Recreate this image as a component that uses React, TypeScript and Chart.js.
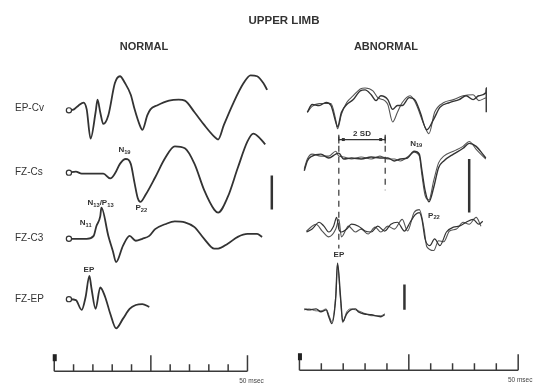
import React, { useEffect, useRef } from "react";
import { Chart, registerables } from "chart.js";

Chart.register(...registerables);

// ---------- text ----------
const titleText = "UPPER LIMB";
const panelTitles = ["NORMAL", "ABNORMAL"];
const rowLabels = ["EP-Cv", "FZ-Cs", "FZ-C3", "FZ-EP"];
const timeTicks = [0, 5, 10, 15, 20, 25, 30, 35, 40, 45, 50];
const timeUnitLabel = "50 msec";

// ---------- NORMAL (left) traces: time (ms), amplitude ----------
const nEpCvT = [3.8, 5.1, 6.3, 7.6, 8.4, 9.4, 10.7, 11.2, 11.9, 12.7, 14.0, 15.7, 17.0, 18.3, 19.8, 20.8, 22.1, 22.8, 24.1, 24.9, 26.6, 29.7, 32.2, 33.8, 36.3, 38.8, 41.4, 42.4, 43.9, 46.4, 49.0, 50.8, 52.5, 54.1, 55.1];
const nEpCvV = [-1, 0, 4, 7, 0, -30, -3, 10, -3, -15, -6, 27, 34, 27, 15, 0, -16, -21, -6, 0, 4, 9, 10, 9, -3, -16, -28, -31, -16, 7, 27, 35, 34, 27, 20];

const nFzCsT = [3.8, 5.6, 7.1, 10.2, 12.7, 14.5, 15.7, 17.0, 18.5, 19.8, 20.8, 21.6, 22.3, 23.6, 26.1, 28.7, 31.2, 33.8, 36.3, 38.8, 41.4, 42.4, 44.9, 47.5, 50.0, 51.5, 53.3, 54.6];
const nFzCsV = [1, 2, 0, 0, 0, -5, 0, 10, 15, 10, -10, -25, -29, -22, -4, 16, 28, 26, 10, -17, -37, -40, -24, 6, 33, 41, 36, 30];

const nFzC3T = [3.8, 8.4, 10.2, 10.9, 11.9, 12.2, 14.0, 15.2, 16.0, 17.8, 19.5, 21.1, 22.8, 24.6, 26.1, 28.7, 31.2, 33.8, 36.3, 38.8, 41.4, 42.4, 44.9, 47.5, 50.0, 52.5, 53.8];
const nFzC3V = [0, 0, 3, 13, 23, 32, 3, -13, -24, -7, 3, -2, 0, 3, 10, 15, 18, 17, 12, 0, -10, -10, -5, 2, 5, 5, 2];

const nFzEpT = [3.8, 5.6, 7.1, 8.1, 9.1, 9.6, 10.7, 11.9, 13.2, 14.5, 16.0, 17.8, 19.5, 21.1, 22.8, 24.6];
const nFzEpV = [1, 0, -10, 3, 25, 13, -9, 13, 3, -14, -29, -19, -9, -5, -4, -7];

// ---------- ABNORMAL (right) traces: two superimposed runs ----------
const aEpCvT1 = [1.8, 2.9, 4.5, 6.1, 7.2, 8.3, 8.7, 9.6, 10.8, 12.3, 13.9, 15.0, 16.4, 17.5, 18.6, 20.2, 21.3, 22.4, 23.5, 25.1, 26.5, 27.6, 29.1, 30.7, 32.1, 34.3, 36.5, 38.1, 39.7, 41.0, 42.6, 42.7, 42.7];
const aEpCvV1 = [-7, 1, 0, 3, 0, -17, -22, -7, 1, 6, 15, 16, 11, 5, 10, 6, -4, 0, 0, 8, 5, -7, -25, -14, -2, 3, 6, 10, 6, 10, 13, 18, -7];
const aEpCvT2 = [1.8, 2.9, 4.5, 6.1, 7.2, 8.3, 8.7, 9.6, 10.8, 12.3, 13.9, 15.0, 16.8, 17.9, 19.5, 20.2, 21.3, 22.4, 23.5, 25.3, 26.5, 28.5, 29.6, 30.9, 33.0, 35.2, 37.4, 39.7, 41.0, 42.6];
const aEpCvV2 = [-7, -1, 2, 2, 2, -15, -24, -9, 3, 10, 17, 18, 15, 8, 5, 1, -17, -7, 3, 10, 3, -20, -29, -7, 3, 6, 10, 11, 5, 8];

const aFzCsT = [1.1, 1.8, 2.9, 4.9, 6.7, 8.3, 9.0, 10.1, 11.9, 14.1, 16.4, 18.4, 20.2, 21.7, 23.1, 24.7, 26.2, 27.4, 28.0, 28.7, 29.6, 30.7, 31.8, 33.0, 35.2, 37.4, 38.8, 40.4, 41.9, 42.6];
const aFzCsV1 = [-13, -3, 2, 4, 0, 4, 5, -1, 0, -1, 1, 0, 0, -3, -1, 0, 7, 4, -13, -33, -45, -30, -10, -3, 4, 10, 15, 12, 4, 0];
const aFzCsV2 = [-11, -1, 4, 2, 2, 7, 2, 1, -1, 1, -1, 2, -1, -1, -3, 1, 6, 2, -18, -38, -43, -23, -5, 2, 7, 12, 17, 9, 2, -1];

const aFzC3T1 = [1.6, 2.9, 4.5, 5.6, 6.7, 7.8, 8.5, 9.0, 9.6, 10.8, 11.9, 13.5, 15.0, 16.4, 17.9, 19.5, 20.9, 22.4, 24.0, 25.3, 26.5, 27.4, 28.0, 28.7, 29.8, 30.9, 32.1, 33.6, 35.2, 36.5, 38.1, 39.7, 41.0, 41.9];
const aFzC3V1 = [-3, 0, 7, 3, -3, 3, 12, 0, -3, 0, 5, 3, -2, -3, 3, -2, 5, 7, -2, 7, 15, 17, 10, -10, -17, -10, -17, -3, 2, 3, 7, 10, 5, 8];
const aFzC3T2 = [1.6, 3.8, 5.2, 6.7, 8.3, 9.0, 9.6, 11.2, 12.8, 14.1, 15.7, 17.3, 18.6, 20.2, 21.7, 23.5, 24.7, 26.2, 27.4, 28.5, 29.1, 30.7, 31.8, 33.0, 34.3, 35.9, 37.4, 38.8, 40.4, 41.5];
const aFzC3V2 = [-2, 5, -2, -8, 0, 10, -8, 3, -3, 0, -5, 2, -3, 3, 0, 10, -2, 17, 20, 0, -18, -22, -12, -13, -2, 0, 7, 5, 12, 3];

const aFzEpT = [1.1, 2.2, 3.8, 4.9, 6.1, 6.7, 7.4, 8.3, 8.7, 9.4, 9.9, 10.8, 11.7, 12.8, 13.5, 14.6, 16.4, 18.6, 19.5];
const aFzEpV1 = [1, 0, 1, -2, 0, -7, -14, 13, 48, 13, -12, -4, 0, 1, -2, -4, -5, -7, -5];
const aFzEpV2 = [0, 1, -1, -1, 1, -5, -12, 15, 46, 10, -13, -2, 1, 0, -1, -3, -6, -6, -4];

// scale bars (ms, amplitude from, amplitude to)
const scaleBarT = [56.3, 38.8, 24.0];
const scaleBarFrom = [-2, -1, 26];
const scaleBarTo = [-37, -56, 0];

// 2 SD latency markers (ms)
const sdMarkT = [9.0, 19.6];

// ---------- layout ----------
const W = 543;
const H = 391;
const PANELS = {
  L: { x0: 50, pxPerMs: 3.94, rows: [107, 173, 240, 303], timeline: 376 },
  R: { x0: 300, pxPerMs: 4.46, rows: [103, 157, 230, 313], timeline: 375 },
};
const INK = "#333333";

function trace(panel: "L" | "R", row: number, t: number[], v: number[], opts: any = {}) {
  const off = PANELS[panel].rows[row];
  return {
    data: t.map((x, i) => ({ x, y: off - v[i] })),
    xAxisID: panel === "L" ? "xL" : "xR",
    yAxisID: "y",
    borderColor: INK,
    borderWidth: 1.8,
    cubicInterpolationMode: "monotone",
    pointRadius: 0,
    fill: false,
    ...opts,
  };
}

function segment(panel: "L" | "R", t1: number, y1: number, t2: number, y2: number, opts: any = {}) {
  return {
    data: [{ x: t1, y: y1 }, { x: t2, y: y2 }],
    xAxisID: panel === "L" ? "xL" : "xR",
    yAxisID: "y",
    borderColor: INK,
    borderWidth: 2,
    pointRadius: 0,
    tension: 0,
    fill: false,
    ...opts,
  };
}

const startCircle = {
  pointRadius: (c: any) => (c.dataIndex === 0 ? 2.6 : 0),
  pointBackgroundColor: "#ffffff",
  pointBorderColor: INK,
  pointBorderWidth: 1.2,
};

type Seg = [string, boolean];
const annotations: { p: "L" | "R"; row: number; t: number; amp: number; segs: Seg[] }[] = [
  { p: "L", row: 1, t: 16.6, amp: 24, segs: [["N", false], ["19", true]] },
  { p: "L", row: 1, t: 21.0, amp: -35, segs: [["P", false], ["22", true]] },
  { p: "L", row: 2, t: 8.6, amp: 37, segs: [["N", false], ["13", true], ["/P", false], ["13", true]] },
  { p: "L", row: 2, t: 6.6, amp: 16, segs: [["N", false], ["11", true]] },
  { p: "L", row: 3, t: 7.6, amp: 31, segs: [["EP", false]] },
  { p: "R", row: 1, t: 25.3, amp: 15, segs: [["N", false], ["19", true]] },
  { p: "R", row: 1, t: 29.4, amp: -59, segs: [["P", false], ["22", true]] },
  { p: "R", row: 3, t: 7.8, amp: 57, segs: [["EP", false]] },
];

function drawSegs(ctx: CanvasRenderingContext2D, x: number, y: number, segs: Seg[], size: number) {
  let cx = x;
  for (const [s, sub] of segs) {
    ctx.font = `bold ${sub ? size * 0.72 : size}px "Liberation Sans", Arial, sans-serif`;
    ctx.fillText(s, cx, sub ? y + size * 0.3 : y);
    cx += ctx.measureText(s).width;
  }
}

const decor = {
  id: "decor",
  afterDatasetsDraw(chart: any) {
    const ctx: CanvasRenderingContext2D = chart.ctx;
    const y = chart.scales.y;
    const sx: any = { L: chart.scales.xL, R: chart.scales.xR };
    ctx.save();
    ctx.fillStyle = "#333";
    ctx.textBaseline = "middle";
    ctx.textAlign = "center";
    ctx.font = 'bold 11.5px "Liberation Sans", Arial, sans-serif';
    ctx.fillText(titleText, 284, 21);
    ctx.font = 'bold 11px "Liberation Sans", Arial, sans-serif';
    ctx.fillText(panelTitles[0], 144, 47);
    ctx.fillText(panelTitles[1], 386, 47);

    // row labels
    ctx.textAlign = "left";
    ctx.font = '10px "Liberation Sans", Arial, sans-serif';
    rowLabels.forEach((lab, i) => {
      ctx.fillText(lab, 15, y.getPixelForValue(PANELS.L.rows[i]) - 1);
    });

    // peak annotations
    ctx.fillStyle = "#333";
    for (const a of annotations) {
      const px = sx[a.p].getPixelForValue(a.t);
      const py = y.getPixelForValue(PANELS[a.p].rows[a.row] - a.amp);
      drawSegs(ctx, px, py, a.segs, 8);
    }

    // 2 SD bracket
    {
      const xs = sx.R;
      const rowOff = PANELS.R.rows[1];
      const x1 = xs.getPixelForValue(sdMarkT[0]);
      const x2 = xs.getPixelForValue(sdMarkT[1]);
      const yy = y.getPixelForValue(rowOff - 19);
      ctx.strokeStyle = INK;
      ctx.lineWidth = 1.2;
      ctx.beginPath();
      ctx.moveTo(x1, yy);
      ctx.lineTo(x2, yy);
      ctx.moveTo(x1, yy - 3);
      ctx.lineTo(x1, yy + 4);
      ctx.moveTo(x2, yy - 3);
      ctx.lineTo(x2, yy + 4);
      ctx.stroke();
      ctx.fillStyle = INK;
      ctx.fillRect(x1 + 3, yy - 1.5, 3, 3);
      ctx.fillRect(x2 - 6, yy - 1.5, 3, 3);
      ctx.textAlign = "center";
      ctx.font = 'bold 8px "Liberation Sans", Arial, sans-serif';
      ctx.fillText("2 SD", (x1 + x2) / 2, yy - 6);
    }

    // timelines
    (["L", "R"] as const).forEach((p) => {
      const xs = sx[p];
      const ty = y.getPixelForValue(PANELS[p].timeline);
      const xa = xs.getPixelForValue(timeTicks[0]);
      const xb = xs.getPixelForValue(timeTicks[timeTicks.length - 1]);
      ctx.strokeStyle = "#3a3a3a";
      ctx.lineWidth = 1.5;
      ctx.beginPath();
      ctx.moveTo(xa, ty);
      ctx.lineTo(xb, ty);
      for (const t of timeTicks) {
        const tx = xs.getPixelForValue(t);
        const tall = t % 25 === 0;
        ctx.moveTo(tx, ty);
        ctx.lineTo(tx, ty - (tall ? 16 : 7));
      }
      ctx.stroke();
      ctx.fillStyle = "#222";
      ctx.fillRect(xa - 1.5, ty - 17, 4, 7);
      ctx.fillStyle = "#444";
      ctx.textAlign = "center";
      ctx.font = '6.5px "Liberation Sans", Arial, sans-serif';
      ctx.fillText(timeUnitLabel, xb + (p === "L" ? 4 : 2), ty + 10);
    });
    ctx.restore();
  },
};

export default function App() {
  const ref = useRef<HTMLCanvasElement | null>(null);
  useEffect(() => {
    if (!ref.current) return;
    const L = PANELS.L;
    const R = PANELS.R;
    const datasets: any[] = [
      trace("L", 0, nEpCvT, nEpCvV, startCircle),
      trace("L", 1, nFzCsT, nFzCsV, startCircle),
      trace("L", 2, nFzC3T, nFzC3V, startCircle),
      trace("L", 3, nFzEpT, nFzEpV, startCircle),
      trace("R", 0, aEpCvT1, aEpCvV1, { borderWidth: 1.4 }),
      trace("R", 0, aEpCvT2, aEpCvV2, { borderWidth: 1.1, borderColor: "#555" }),
      trace("R", 1, aFzCsT, aFzCsV1, { borderWidth: 1.4 }),
      trace("R", 1, aFzCsT, aFzCsV2, { borderWidth: 1.1, borderColor: "#555" }),
      trace("R", 2, aFzC3T1, aFzC3V1, { borderWidth: 1.2 }),
      trace("R", 2, aFzC3T2, aFzC3V2, { borderWidth: 1.1, borderColor: "#555" }),
      trace("R", 3, aFzEpT, aFzEpV1, { borderWidth: 1.4 }),
      trace("R", 3, aFzEpT, aFzEpV2, { borderWidth: 1.0, borderColor: "#666" }),
      // scale bars
      segment("L", scaleBarT[0], L.rows[1] - scaleBarFrom[0], scaleBarT[0], L.rows[1] - scaleBarTo[0], { borderWidth: 2.5 }),
      segment("R", scaleBarT[1], R.rows[1] - scaleBarFrom[1], scaleBarT[1], R.rows[1] - scaleBarTo[1], { borderWidth: 2.5 }),
      segment("R", scaleBarT[2], R.rows[3] - scaleBarFrom[2], scaleBarT[2], R.rows[3] - scaleBarTo[2], { borderWidth: 2.5 }),
      // dashed latency lines
      segment("R", sdMarkT[0], R.rows[1] - 24, sdMarkT[0], R.rows[3] - 63, { borderWidth: 1.2, borderDash: [6, 5] }),
      segment("R", sdMarkT[1], R.rows[1] - 24, sdMarkT[1], R.rows[1] + 33, { borderWidth: 1.2, borderDash: [6, 5] }),
    ];
    const chart = new Chart(ref.current, {
      type: "line",
      data: { datasets },
      options: {
        responsive: false,
        maintainAspectRatio: false,
        animation: false,
        layout: { padding: 0 },
        plugins: { legend: { display: false }, tooltip: { enabled: false }, title: { display: false } },
        scales: {
          xL: { type: "linear", display: false, min: -L.x0 / L.pxPerMs, max: (W - L.x0) / L.pxPerMs },
          xR: { type: "linear", display: false, min: -R.x0 / R.pxPerMs, max: (W - R.x0) / R.pxPerMs },
          y: { type: "linear", display: false, min: 0, max: H, reverse: true },
        },
      },
      plugins: [decor],
    });
    return () => chart.destroy();
  }, []);
  return (
    <div style={{ position: "absolute", left: 0, top: 0, width: W, height: H, background: "#fff" }}>
      <canvas ref={ref} width={W} height={H} style={{ display: "block" }} />
    </div>
  );
}
